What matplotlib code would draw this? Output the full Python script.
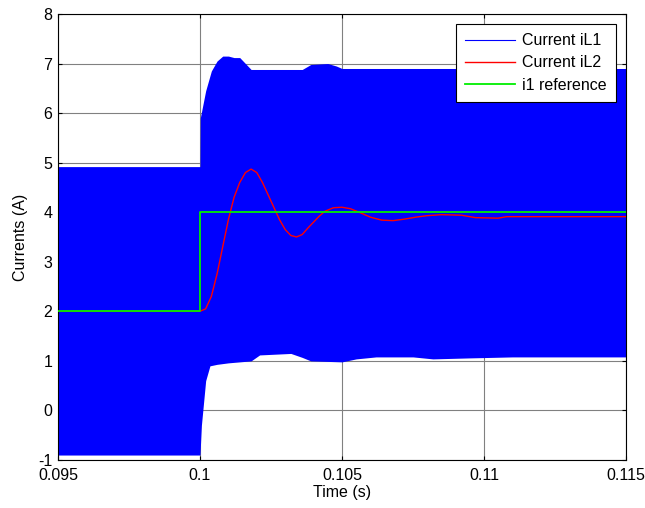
import matplotlib.pyplot as plt
import numpy as np

plt.rcParams['font.family'] = ['Liberation Sans', 'DejaVu Sans']
plt.rcParams['axes.unicode_minus'] = False

# iL1 switching band, read as upper / lower envelope
t_up = [0.095, 0.1, 0.10001, 0.1002, 0.1004, 0.1006, 0.1008, 0.1010, 0.1012, 0.1014,
        0.1016, 0.1018, 0.1036, 0.1039, 0.1045, 0.1048, 0.1050, 0.115]
il1_up = [4.92, 4.92, 5.9, 6.45, 6.85, 7.05, 7.15, 7.15, 7.12, 7.12,
          7.0, 6.88, 6.88, 6.98, 7.0, 6.95, 6.9, 6.9]
t_lo = [0.095, 0.1, 0.10005, 0.1001, 0.1002, 0.10035, 0.1006, 0.1010, 0.1018, 0.1021,
        0.1032, 0.1036, 0.1039, 0.1050, 0.1055, 0.1062, 0.1075, 0.1082, 0.1095, 0.1110, 0.115]
il1_lo = [-0.9, -0.9, -0.3, 0.0, 0.6, 0.9, 0.93, 0.96, 1.0, 1.12,
          1.15, 1.07, 1.0, 0.98, 1.04, 1.08, 1.08, 1.04, 1.06, 1.08, 1.08]

# iL2
t_l2 = [0.095, 0.1, 0.1002, 0.1004, 0.1006, 0.1008, 0.1010, 0.1012, 0.1014, 0.1016,
        0.1018, 0.1020, 0.1022, 0.1024, 0.1026, 0.1028, 0.1030, 0.1032, 0.1034, 0.1036,
        0.1038, 0.1040, 0.1042, 0.1044, 0.1047, 0.1050, 0.1053, 0.1056, 0.1060, 0.1064,
        0.1068, 0.1072, 0.1076, 0.1080, 0.1085, 0.1092, 0.1097, 0.1105, 0.1108, 0.115]
il2 = [2.0, 2.0, 2.05, 2.3, 2.75, 3.3, 3.85, 4.3, 4.6, 4.8,
       4.87, 4.8, 4.6, 4.35, 4.1, 3.85, 3.65, 3.53, 3.5, 3.55,
       3.68, 3.8, 3.92, 4.02, 4.09, 4.1, 4.07, 4.0, 3.9, 3.84,
       3.83, 3.86, 3.9, 3.93, 3.95, 3.94, 3.89, 3.88, 3.91, 3.91]

# reference
t_ref = [0.095, 0.1, 0.1, 0.115]
i_ref = [2, 2, 4, 4]

fs = 11.5

fig = plt.figure(figsize=(6.45, 5.08), dpi=100)
ax = fig.add_axes([0.0899, 0.0945, 0.8806, 0.878])

t_all = np.union1d(t_up, t_lo)
ax.fill_between(t_all, np.interp(t_all, t_lo, il1_lo), np.interp(t_all, t_up, il1_up),
                color='#0000ff', lw=0, zorder=2)
ax.plot([], [], color='#0000ff', lw=0.8, label='Current iL1')
ax.plot(t_l2, il2, color='#ff0000', lw=1.0, label='Current iL2', zorder=3)
ax.plot(t_ref, i_ref, color='#00ee00', lw=1.3, label='i1 reference', zorder=4)

ax.set_xlim(0.095, 0.115)
ax.set_ylim(-1, 8)
ax.set_xticks([0.095, 0.1, 0.105, 0.11, 0.115])
ax.set_xticklabels(['0.095', '0.1', '0.105', '0.11', '0.115'])
ax.set_yticks(range(-1, 9))
ax.grid(True, color='0.5', lw=0.8, zorder=1)
ax.set_axisbelow(True)
ax.tick_params(direction='in', top=True, right=True, labelsize=fs, length=3)
ax.tick_params(axis='x', pad=6)
ax.tick_params(axis='y', pad=4)
for s in ax.spines.values():
    s.set_linewidth(0.8)

ax.set_xlabel('Time (s)', fontsize=fs, labelpad=1)
ax.set_ylabel('Currents (A)', fontsize=fs, labelpad=7)

leg = ax.legend(loc='upper right', fontsize=fs, fancybox=False, framealpha=1,
                edgecolor='black', borderaxespad=0.6, handlelength=3.1,
                handletextpad=0.45, labelspacing=0.45, borderpad=0.6)
leg.get_frame().set_linewidth(0.8)

fig.savefig('out.png', dpi=100)
